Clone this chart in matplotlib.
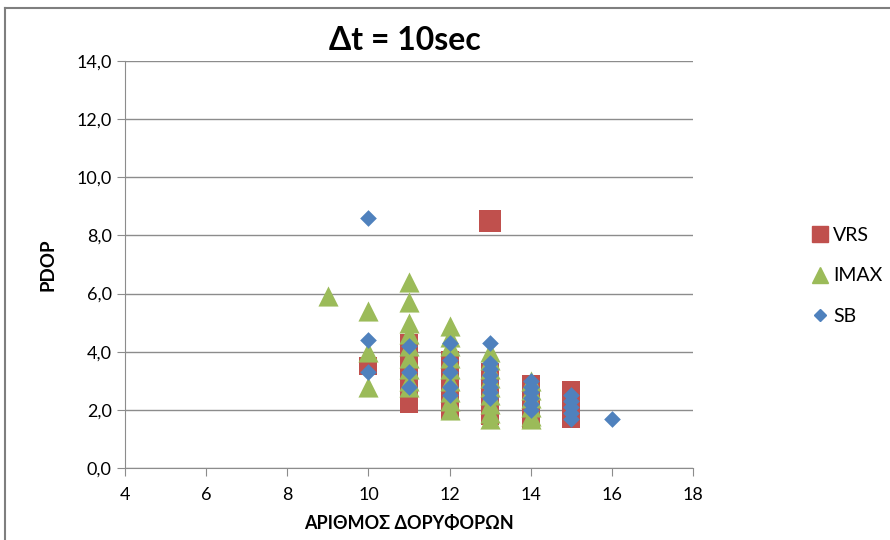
import matplotlib
matplotlib.use("Agg")
import matplotlib.pyplot as plt
from matplotlib.lines import Line2D

plt.rcParams['font.family'] = ['Lato', 'DejaVu Sans']

# VRS
vrs_x = [10, 11, 11, 11, 11, 11, 11, 12, 12, 12, 12, 12, 13, 13, 13, 13, 13,
         14, 14, 14, 14, 15, 15, 15, 15, 13]
vrs_y = [3.5, 2.2, 2.6, 3.0, 3.4, 3.8, 4.3, 2.0, 2.4, 2.8, 3.2, 3.7, 1.8, 2.2, 2.6, 3.0, 3.3,
         1.7, 2.1, 2.5, 2.9, 1.7, 2.0, 2.4, 2.7, 8.5]

# IMAX
imax_x = [9, 10, 10, 10,
          11, 11, 11, 11, 11, 11, 11, 11, 11,
          12, 12, 12, 12, 12, 12, 12, 12, 12,
          13, 13, 13, 13, 13, 13, 13, 13, 13,
          14, 14, 14, 14, 14, 14]
imax_y = [5.9, 5.4, 4.0, 2.8,
          6.4, 5.7, 5.0, 4.6, 4.2, 3.8, 3.4, 3.0, 2.8,
          4.9, 4.5, 4.2, 3.8, 3.4, 3.0, 2.6, 2.3, 2.0,
          4.0, 3.7, 3.4, 3.1, 2.8, 2.5, 2.2, 1.9, 1.7,
          3.0, 2.7, 2.4, 2.1, 1.8, 1.7]

# SB
sb_x = [10, 10, 10, 11, 11, 11, 12, 12, 12, 12, 12,
        13, 13, 13, 13, 13, 13, 13, 13,
        14, 14, 14, 14, 14, 14, 15, 15, 15, 15, 15, 16]
sb_y = [8.6, 4.4, 3.3, 4.2, 3.3, 2.8, 4.3, 3.7, 3.3, 2.8, 2.5,
        4.3, 3.6, 3.4, 3.2, 3.0, 2.8, 2.6, 2.4,
        3.0, 2.8, 2.6, 2.4, 2.2, 2.0, 2.5, 2.3, 2.1, 1.9, 1.7, 1.7]

red = '#C0504D'
green = '#9BBB59'
blue = '#4F81BD'
grid = '#8C8C8C'

fig = plt.figure(figsize=(8.9, 5.4), dpi=100)
ax = fig.add_axes([125 / 890, 1 - 468 / 540, 568 / 890, 407 / 540])

ax.scatter(vrs_x[:-1], vrs_y[:-1], marker='s', s=150, color=red, zorder=3, linewidths=0)
ax.scatter(vrs_x[-1:], vrs_y[-1:], marker='s', s=230, color=red, zorder=3, linewidths=0)
ax.scatter(imax_x, imax_y, marker='^', s=210, color=green, zorder=4, linewidths=0)
ax.scatter(sb_x, sb_y, marker='D', s=72, color=blue, zorder=5, linewidths=0)

ax.set_xlim(4, 18)
ax.set_ylim(0, 14)
ax.set_xticks(range(4, 19, 2))
ax.set_yticks(range(0, 15, 2))
ax.set_yticklabels([f'{v:.1f}'.replace('.', ',') for v in range(0, 15, 2)])
ax.yaxis.grid(True, color=grid, linewidth=1)
ax.set_axisbelow(True)
for s in ['top', 'right']:
    ax.spines[s].set_visible(False)
for s in ['left', 'bottom']:
    ax.spines[s].set_color(grid)
ax.tick_params(axis='both', colors=grid, labelcolor='black', labelsize=13, length=6, direction='out')
ax.tick_params(axis='x', pad=8)

ax.set_xlabel('ΑΡΙΘΜΟΣ ΔΟΡΥΦΟΡΩΝ', fontsize=13, fontweight='bold', labelpad=8)
ax.set_ylabel('PDOP', fontsize=13.5, fontweight='bold', labelpad=14)
fig.text(405 / 890, 1 - 40 / 540, 'Δt = 10sec', fontsize=23, fontweight='bold',
         ha='center', va='center')

handles = [
    Line2D([], [], marker='s', linestyle='', color=red, markersize=11),
    Line2D([], [], marker='^', linestyle='', color=green, markersize=12),
    Line2D([], [], marker='D', linestyle='', color=blue, markersize=6),
]
fig.legend(handles, ['VRS', 'IMAX', 'SB'], loc='center left',
           bbox_to_anchor=(812 / 890, 1 - 276 / 540), frameon=False, fontsize=14,
           handletextpad=0.3, labelspacing=1.2, handlelength=0.8,
           borderpad=0, borderaxespad=0)

# chart border
fig.add_artist(Line2D([5 / 890, 5 / 890], [0, 1 - 8 / 540], color='#7F7F7F', linewidth=1.5,
                      transform=fig.transFigure))
fig.add_artist(Line2D([5 / 890, 1], [1 - 8 / 540, 1 - 8 / 540], color='#7F7F7F', linewidth=1.5,
                      transform=fig.transFigure))

fig.savefig('out.png', dpi=100)
